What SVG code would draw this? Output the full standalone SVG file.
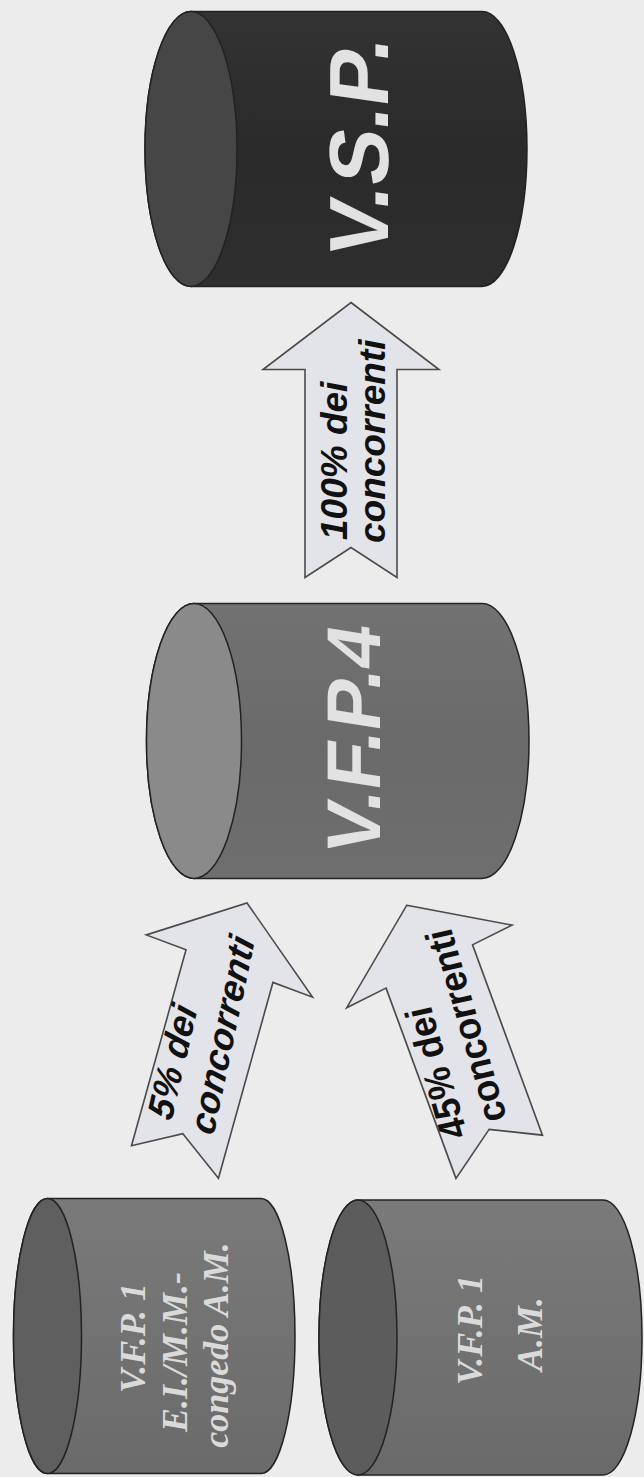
<svg xmlns="http://www.w3.org/2000/svg" width="644" height="1477" viewBox="0 0 644 1477">
<style>
.cyl{stroke:#222;stroke-width:1.5}
.ser{font-family:"Liberation Serif","Times New Roman",serif;font-weight:bold;font-style:italic;font-size:36px;fill:#dadada;text-anchor:middle}
.big{font-family:"Liberation Sans",Arial,sans-serif;font-weight:bold;fill:#e2e2e2;text-anchor:middle}
.arr{fill:#e3e3ea;stroke:#4a4a4a;stroke-width:1.6;stroke-linejoin:miter}
.lab{font-family:"Liberation Sans",Arial,sans-serif;font-weight:bold;font-style:italic;font-size:37px;fill:#111}
</style>
<defs>
<linearGradient id="gDark" x1="0" y1="0" x2="0" y2="1">
<stop offset="0" stop-color="#333"/><stop offset="0.5" stop-color="#2a2a2a"/><stop offset="1" stop-color="#2e2e2e"/>
</linearGradient>
<linearGradient id="gMid" x1="0" y1="0" x2="0" y2="1">
<stop offset="0" stop-color="#727272"/><stop offset="0.5" stop-color="#6a6a6a"/><stop offset="1" stop-color="#6e6e6e"/>
</linearGradient>
<linearGradient id="gLow" x1="0" y1="0" x2="0" y2="1">
<stop offset="0" stop-color="#7a7a7a"/><stop offset="0.5" stop-color="#727272"/><stop offset="1" stop-color="#6a6a6a"/>
</linearGradient>
<path id="arrowShape" d="M0,-137.5 L88,-70.5 L46,-70.5 L46,137.5 L0,107.5 L-46,137.5 L-46,-70.5 L-88,-70.5 Z"/>
</defs>
<rect x="0" y="0" width="644" height="1477" fill="#ececec"/>

<g id="node-vsp">
<path class="cyl" fill="url(#gDark)" d="M191,11.5 H482 A45,137.5 0 0 1 482,286.5 H191 A46,137.5 0 0 1 191,11.5 Z"/>
<ellipse class="cyl" cx="191" cy="149" rx="46" ry="137.5" fill="#464646"/>
<text class="big" font-size="84" transform="translate(388,150) rotate(-90) skewX(-8)">V.S.P.</text>
</g>

<g id="node-vfp4">
<path class="cyl" fill="url(#gMid)" d="M194,603.5 H482 A47,137.5 0 0 1 482,878.5 H194 A47.5,137.5 0 0 1 194,603.5 Z"/>
<ellipse class="cyl" cx="194" cy="741" rx="47.5" ry="137.5" fill="#8a8a8a"/>
<text class="big" font-size="76" transform="translate(380,743) rotate(-90) skewX(-9)">V.F.P.4</text>
</g>

<g id="node-vfp1-ei">
<path class="cyl" fill="url(#gLow)" d="M47.5,1198.5 H261 A34,137.5 0 0 1 261,1473.5 H47.5 A34,137.5 0 0 1 47.5,1198.5 Z"/>
<ellipse class="cyl" cx="47.5" cy="1336" rx="34" ry="137.5" fill="#5f5f5f"/>
<text class="ser" transform="translate(145,1338) rotate(-90)">V.F.P. 1</text>
<text class="ser" transform="translate(187,1352) rotate(-90)">E.I./M.M.-</text>
<text class="ser" transform="translate(228,1345) rotate(-90)">congedo A.M.</text>
</g>

<g id="node-vfp1-am">
<path class="cyl" fill="url(#gLow)" d="M358,1200 H603 A39,137.5 0 0 1 603,1475 H358 A39,137.5 0 0 1 358,1200 Z"/>
<ellipse class="cyl" cx="358" cy="1337.5" rx="39" ry="137.5" fill="#5c5c5c"/>
<text class="ser" transform="translate(482,1330) rotate(-90)">V.F.P. 1</text>
<text class="ser" transform="translate(542,1334) rotate(-90)">A.M.</text>
</g>

<g id="connectors">
<g id="arrow-100" transform="translate(351,440)">
<use href="#arrowShape" class="arr"/>
<text class="lab" transform="translate(-4,100) rotate(-90)">100% dei</text>
<text class="lab" transform="translate(34,103) rotate(-90)">concorrenti</text>
</g>
<g id="arrow-5" transform="matrix(0.945,0.354,-0.262,0.942,211,1032.5)">
<use href="#arrowShape" class="arr"/>
<text class="lab" transform="translate(-14,100) rotate(-92.5)">5% dei</text>
<text class="lab" transform="translate(30,99) rotate(-93.5)">concorrenti</text>
</g>
<g id="arrow-45" transform="matrix(0.94,-0.47,0.336,0.915,453,1031)">
<use href="#arrowShape" class="arr"/>
<text class="lab" transform="translate(-21,101) rotate(-86)">45% dei</text>
<text class="lab" transform="translate(20,104) rotate(-86.5)">concorrenti</text>
</g>
</g>
</svg>
